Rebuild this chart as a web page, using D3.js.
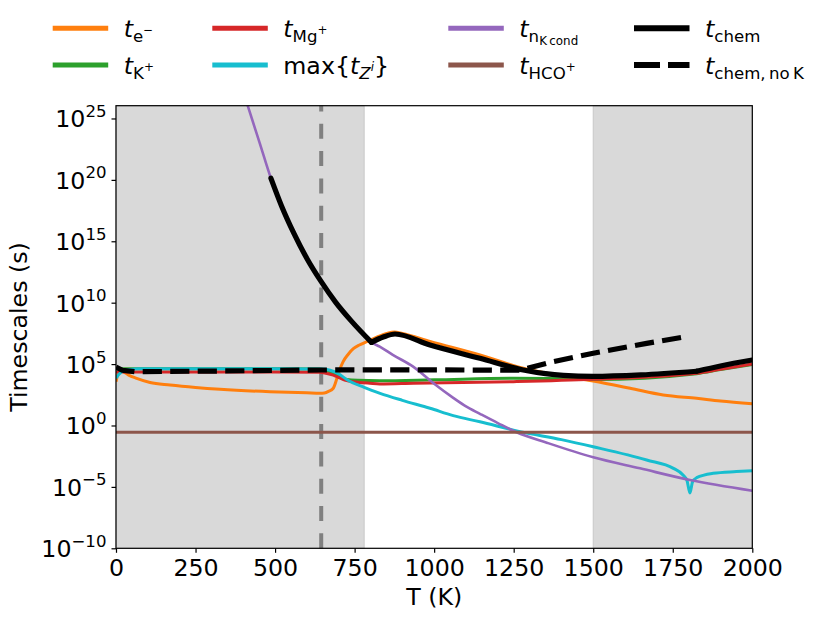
<!DOCTYPE html>
<html lang="en">
<head>
<meta charset="utf-8">
<title>Timescales</title>
<script src="https://cdn.jsdelivr.net/npm/d3@7"></script>
<style>
  body { margin: 0; background: #fff; }
  text { font-family: "DejaVu Sans", sans-serif; fill: #000; }
</style>
</head>
<body>
<script>
// --- data: temperature (K) and log10 of timescale (s) ---
var tE   = [0, 6, 12, 25, 40, 65, 107, 170, 250, 327, 484, 600, 641, 655, 668, 683, 694, 704, 714, 730, 746, 765, 788, 820, 851, 875, 900, 987, 1144, 1280, 1385, 1450, 1500, 1616, 1720, 1825, 1900, 2000];
var vE   = [3.57, 4.2, 4.5, 4.35, 4.1, 3.84, 3.5, 3.3, 3.1, 2.95, 2.75, 2.66, 2.62, 2.65, 2.78, 3.03, 3.8, 4.6, 5.2, 5.8, 6.25, 6.55, 6.82, 7.2, 7.5, 7.62, 7.5, 6.85, 5.74, 4.66, 4.11, 3.85, 3.62, 3.03, 2.48, 2.21, 2.0, 1.78];

var tK   = [0, 100, 300, 500, 640, 665, 685, 705, 725, 760, 829, 1000, 1249, 1400, 1500, 1825, 1900, 2000];
var vK   = [4.62, 4.62, 4.62, 4.62, 4.6, 4.45, 4.2, 3.9, 3.75, 3.68, 3.65, 3.72, 3.84, 3.8, 3.74, 4.22, 4.55, 4.97];

var tMg  = [0, 100, 300, 500, 640, 660, 683, 705, 725, 746, 798, 829, 935, 1249, 1500, 1825, 1900, 2000];
var vMg  = [4.35, 4.35, 4.35, 4.35, 4.33, 4.25, 4.1, 3.85, 3.65, 3.57, 3.44, 3.38, 3.44, 3.57, 3.76, 4.25, 4.58, 5.0];

var tZ   = [0, 10, 30, 70, 300, 500, 645, 673, 700, 725, 780, 830, 900, 987, 1060, 1144, 1270, 1400, 1500, 1668, 1752, 1783, 1795, 1804, 1812, 1825, 1877, 1950, 2000];
var vZ   = [3.85, 4.2, 4.5, 4.62, 4.62, 4.62, 4.6, 4.5, 4.2, 3.75, 3.1, 2.62, 2.05, 1.4, 0.8, 0.3, -0.5, -1.15, -1.73, -2.81, -3.49, -4.05, -4.5, -5.5, -4.6, -4.25, -3.89, -3.75, -3.68];

var tN   = [400, 414, 452, 487, 520, 560, 600, 644, 690, 740, 803, 829, 870, 934, 1000, 1060, 1100, 1144, 1200, 1259, 1354, 1500, 1647, 1804, 2000];
var vN   = [27.2, 26.04, 22.98, 20.13, 17.9, 15.6, 13.6, 11.75, 10.05, 8.5, 6.77, 6.42, 5.75, 4.79, 3.4, 2.25, 1.55, 0.95, 0.2, -0.55, -1.4, -2.59, -3.49, -4.44, -5.31];

var tHCO = [0, 2000];
var vHCO = [-0.55, -0.55];

var tChem = [487, 520, 560, 600, 644, 690, 740, 803, 840, 877, 987, 1144, 1280, 1350, 1406, 1500, 1650, 1825, 1900, 2000];
var vChem = [20.13, 17.9, 15.6, 13.6, 11.75, 10.05, 8.5, 6.77, 7.2, 7.45, 6.55, 5.47, 4.52, 4.22, 4.08, 4.0, 4.12, 4.42, 4.85, 5.33];
var chemKinks = [803, 1825];

var tNoK = [0, 20, 60, 300, 645, 1000, 1270, 1374, 1500, 1668, 1780];
var vNoK = [4.75, 4.5, 4.38, 4.43, 4.52, 4.53, 4.5, 5.2, 5.88, 6.69, 7.18];

var shadeBands = [[0, 780], [1500, 2000]];
var tMark = 645;

var xTicks = [0, 250, 500, 750, 1000, 1250, 1500, 1750, 2000];
var yExps  = [-10, -5, 0, 5, 10, 15, 20, 25];

(function() {
  // --- setup ---
  var W = 831, H = 618;
  var pL = 116, pR = 752.3, pT = 105.7, pB = 548.3;
  var fs = 23.7, fsSub = 16.6, fsSub2 = 11.9;

  var svg = d3.select("body").append("svg")
    .attr("width", W).attr("height", H);

  var x = d3.scaleLinear().domain([0, 2000]).range([pL, pR]);
  var y = d3.scaleLog().domain([1e-10, Math.pow(10, 26.04)]).range([pB, pT]);

  function pts(ts, vs) {
    return ts.map(function(t, i) { return {t: t, v: Math.pow(10, vs[i])}; });
  }

  // cut a point list into pieces that share the kink points
  function splitAt(data, kinks) {
    var pieces = [], cur = [];
    data.forEach(function(d) {
      cur.push(d);
      if (kinks.indexOf(d.t) >= 0) { pieces.push(cur); cur = [d]; }
    });
    if (cur.length > 1) pieces.push(cur);
    return pieces;
  }

  svg.append("clipPath").attr("id", "plot")
    .append("rect").attr("x", pL).attr("y", pT)
    .attr("width", pR - pL).attr("height", pB - pT);

  // shaded bands
  svg.selectAll("rect.band").data(shadeBands).enter().append("rect")
    .attr("class", "band")
    .attr("x", function(d) { return x(d[0]); })
    .attr("y", pT)
    .attr("width", function(d) { return x(d[1]) - x(d[0]); })
    .attr("height", pB - pT)
    .attr("fill", "#d9d9d9")
    .attr("stroke", "#c8c8c8")
    .attr("stroke-width", 1);

  // grey dashed marker, dashes start from the bottom
  svg.append("line")
    .attr("x1", x(tMark)).attr("x2", x(tMark))
    .attr("y1", pB).attr("y2", pT)
    .attr("stroke", "#808080")
    .attr("stroke-width", 4)
    .attr("stroke-dasharray", "15,12.3");

  var series = [
    {ts: tE,    vs: vE,    color: "#ff7f0e", w: 3,   curve: d3.curveMonotoneX},
    {ts: tK,    vs: vK,    color: "#2ca02c", w: 3,   curve: d3.curveMonotoneX},
    {ts: tMg,   vs: vMg,   color: "#d62728", w: 3,   curve: d3.curveMonotoneX},
    {ts: tZ,    vs: vZ,    color: "#17becf", w: 3,   curve: d3.curveMonotoneX},
    {ts: tN,    vs: vN,    color: "#9467bd", w: 2.6, curve: d3.curveMonotoneX},
    {ts: tHCO,  vs: vHCO,  color: "#8c564b", w: 3,   curve: d3.curveLinear},
    {ts: tChem, vs: vChem, color: "#000",    w: 5.2, curve: d3.curveMonotoneX, kinks: chemKinks},
    {ts: tNoK,  vs: vNoK,  color: "#000",    w: 5.2, curve: d3.curveLinear, dash: "19.2,8.3"}
  ];

  var g = svg.append("g").attr("clip-path", "url(#plot)");
  series.forEach(function(s) {
    var line = d3.line()
      .x(function(d) { return x(d.t); })
      .y(function(d) { return y(d.v); })
      .curve(s.curve);
    var data = pts(s.ts, s.vs);
    var pieces = s.kinks ? splitAt(data, s.kinks) : [data];
    pieces.forEach(function(p) {
      g.append("path")
        .datum(p)
        .attr("d", line)
        .attr("fill", "none")
        .attr("stroke", s.color)
        .attr("stroke-width", s.w)
        .attr("stroke-linecap", s.kinks ? "round" : "butt")
        .attr("stroke-dasharray", s.dash || null);
    });
  });

  // axes
  var xAxis = svg.append("g")
    .attr("transform", "translate(0," + pB + ")")
    .call(d3.axisBottom(x).tickValues(xTicks).tickFormat(d3.format("d"))
      .tickSize(4.5).tickPadding(6.4).tickSizeOuter(0));
  xAxis.selectAll("text").style("font-size", fs + "px")
    .style("font-family", "DejaVu Sans").style("fill", "#000");

  var yAxis = svg.append("g")
    .attr("transform", "translate(" + pL + ",0)")
    .call(d3.axisLeft(y).tickValues(yExps.map(function(e) { return Math.pow(10, e); }))
      .tickSize(4.5).tickFormat("").tickSizeOuter(0));

  yAxis.selectAll(".tick").each(function(d, i) {
    var e = yExps[i];
    var t = d3.select(this).append("text")
      .attr("x", -9.5).attr("y", 8.5)
      .attr("text-anchor", "end")
      .style("font-size", fs + "px").style("font-family", "DejaVu Sans")
      .style("fill", "#000");
    t.append("tspan").text("10");
    t.append("tspan").attr("dy", -10.5).style("font-size", fsSub + "px")
      .text(e < 0 ? "\u2212" + (-e) : String(e));
  });

  svg.selectAll(".domain").remove();
  svg.selectAll(".tick line").attr("stroke", "#000").attr("stroke-width", 1.2);

  // frame
  svg.append("rect")
    .attr("x", pL).attr("y", pT)
    .attr("width", pR - pL).attr("height", pB - pT)
    .attr("fill", "none").attr("stroke", "#000").attr("stroke-width", 1.2);

  // axis labels
  svg.append("text")
    .attr("x", (pL + pR) / 2).attr("y", 605)
    .attr("text-anchor", "middle").style("font-size", fs + "px")
    .text("T (K)");
  svg.append("text")
    .attr("transform", "translate(27," + ((pT + pB) / 2) + ") rotate(-90)")
    .attr("text-anchor", "middle").style("font-size", fs + "px")
    .text("Timescales (s)");

  // legend: label pieces as [text, level, italic]
  // levels: 0 main, 1 subscript, 2 sub-subscript, 3 superscript on subscript
  var levelSize = [fs, fsSub, fsSub2, fsSub2];
  var levelShift = [0, 5, 8.5, -2.5];

  var legendItems = [
    {col: 0, row: 0, color: "#ff7f0e", w: 5, parts: [["t", 0, 1], ["e", 1, 0], ["\u2212", 3, 0]]},
    {col: 0, row: 1, color: "#2ca02c", w: 5, parts: [["t", 0, 1], ["K", 1, 0], ["+", 3, 0]]},
    {col: 1, row: 0, color: "#d62728", w: 5, parts: [["t", 0, 1], ["Mg", 1, 0], ["+", 3, 0]]},
    {col: 1, row: 1, color: "#17becf", w: 5, parts: [["max{", 0, 0], ["t", 0, 1], ["Z", 1, 1], ["i", 3, 1], ["}", 0, 0]]},
    {col: 2, row: 0, color: "#9467bd", w: 5, parts: [["t", 0, 1], ["n", 1, 0], ["K\u2009cond", 2, 0]]},
    {col: 2, row: 1, color: "#8c564b", w: 5, parts: [["t", 0, 1], ["HCO", 1, 0], ["+", 3, 0]]},
    {col: 3, row: 0, color: "#000", w: 6, parts: [["t", 0, 1], ["chem", 1, 0]]},
    {col: 3, row: 1, color: "#000", w: 6, dash: "26,8", parts: [["t", 0, 1], ["chem,\u2009no\u2009K", 1, 0]]}
  ];
  var colX = [52.7, 212.3, 448.3, 634];
  var rowY = [28.3, 65];
  var handleLen = 55.5;

  legendItems.forEach(function(it) {
    var hx = colX[it.col], hy = rowY[it.row];
    svg.append("line")
      .attr("x1", hx).attr("x2", hx + handleLen)
      .attr("y1", hy).attr("y2", hy)
      .attr("stroke", it.color).attr("stroke-width", it.w)
      .attr("stroke-dasharray", it.dash || null);
    var txt = svg.append("text")
      .attr("x", hx + 71).attr("y", hy + 8.5);
    var prev = 0;
    it.parts.forEach(function(p) {
      var sh = levelShift[p[1]];
      txt.append("tspan")
        .attr("dy", sh - prev)
        .style("font-size", levelSize[p[1]] + "px")
        .style("font-style", p[2] ? "italic" : "normal")
        .text(p[0]);
      prev = sh;
    });
  });
})();
</script>
</body>
</html>
